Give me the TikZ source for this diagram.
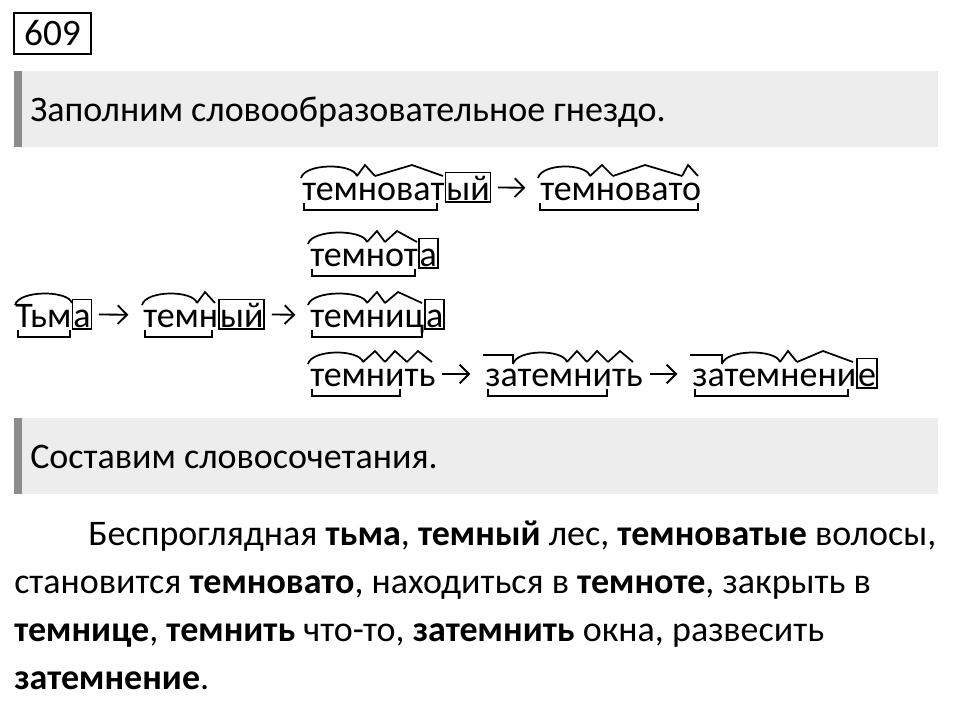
\documentclass[tikz,border=0pt]{standalone}
\usepackage{fontspec}
\setmainfont{Carlito}
\usepackage{tikz}
\usetikzlibrary{calc,arrows.meta}
\definecolor{bandgray}{RGB}{237,237,237}
\definecolor{bargray}{RGB}{140,140,140}
\newcommand\txtsize{\fontsize{27}{32}\selectfont}
% morpheme marks, offsets in px from the base west of a word
\newcommand\koren[3]{%
  \draw[morf] ($(#1.base west)+(#2,-22)$) .. controls ($(#1.base west)+(#2+4,-37)$) and ($(#1.base west)+(#3-4,-37)$) .. ($(#1.base west)+(#3,-24)$);
}
\newcommand\suff[4]{%
  \draw[morf] ($(#1.base west)+(#2,-24)$) -- ($(#1.base west)+(#3,-35)$) -- ($(#1.base west)+(#4,-24)$);
}
\newcommand\prist[3]{%
  \draw[morf] ($(#1.base west)+(#2,-31)$) -- ($(#1.base west)+(#3,-31)$) -- ($(#1.base west)+(#3,-22)$);
}
\newcommand\osnova[3]{%
  \draw[osn] ($(#1.base west)+(#2,3)$) -- ($(#1.base west)+(#2,10)$) -- ($(#1.base west)+(#3,10)$) -- ($(#1.base west)+(#3,3)$);
}
\begin{document}
\begin{tikzpicture}
[x=0.75pt, y=-0.75pt,
 word/.style={font=\txtsize, inner sep=0pt, anchor=base west, text height=18pt, text depth=0pt},
 okon/.style={draw, line width=1.2pt, font=\txtsize, inner xsep=0.6pt, inner ysep=0pt, anchor=base west, text height=20.5pt, text depth=1.5pt},
 txt/.style={font=\txtsize, inner sep=0pt, anchor=base west},
 morf/.style={line width=1.3pt},
 osn/.style={line width=1.6pt},
 strel/.style={line width=1.4pt, -{Straight Barb[length=7pt,width=14pt]}, shorten <=5pt, shorten >=11pt}]
\useasboundingbox (0,0) rectangle (960,708);
\node[draw, line width=1.5pt, minimum width=57.75pt, minimum height=30.75pt, inner sep=0pt, font=\fontsize{28}{30}\selectfont] (nomer) at (52.5,33.5) {609};
\foreach \yb/\nm/\zag in {71/zag1/{Заполним словообразовательное гнездо.}, 418/zag2/{Составим словосочетания.}}
  { \fill[bandgray] (14,\yb) rectangle (938,\yb+76);
    \fill[bargray] (14,\yb) rectangle (22,\yb+76);
    \node[txt] (\nm) at (30,\yb+50) {\zag};
  }
% the nest
\node[word] (tvat) at (302,200) {темноват};
\node[okon] (tvatE) at (tvat.base east) {ый};
\node[word] (tvato) at (540,200) {темновато};
\node[word] (tnot) at (310,266) {темнот};
\node[okon] (tnotE) at (tnot.base east) {а};
\node[word] (tm) at (15,327) {Тьм};
\node[okon] (tmE) at (tm.base east) {а};
\node[word] (tny) at (143,327) {темн};
\node[okon] (tnyE) at (tny.base east) {ый};
\node[word] (tnic) at (310,327) {темниц};
\node[okon] (tnicE) at (tnic.base east) {а};
\node[word] (tnit) at (310,386) {темнить};
\node[word] (ztnit) at (485,386) {затемнить};
\node[word] (ztnen) at (692,386) {затемнени};
\node[okon] (ztnenE) at (ztnen.base east) {е};
\foreach \a/\b in {tvatE/tvato, tmE/tny, tnyE/tnic, tnit/ztnit, ztnit/ztnen}
  \draw[strel] (\a.east) -- (\b.west);
\koren{tvat}{-1}{55} \suff{tvat}{55}{63}{73} \suff{tvat}{73}{110}{141} \osnova{tvat}{2}{135}
\koren{tvato}{-2}{50} \suff{tvato}{50}{62}{73} \suff{tvato}{73}{105}{142} \suff{tvato}{142}{148}{158} \osnova{tvato}{0}{158}
\koren{tnot}{-2}{57} \suff{tnot}{57}{67}{75} \suff{tnot}{75}{87}{107} \osnova{tnot}{2}{105}
\koren{tm}{0}{57} \osnova{tm}{3}{55}
\koren{tny}{-1}{54} \suff{tny}{54}{62}{72} \osnova{tny}{2}{69}
\koren{tnic}{-2}{57} \suff{tnic}{57}{67}{75} \suff{tnic}{75}{88}{112} \osnova{tnic}{2}{112}
\koren{tnit}{-2}{53} \suff{tnit}{53}{65}{75} \suff{tnit}{75}{85}{97} \suff{tnit}{97}{108}{122} \osnova{tnit}{2}{90}
\prist{ztnit}{-2}{28} \koren{ztnit}{28}{82} \suff{ztnit}{82}{92}{102} \suff{ztnit}{102}{112}{123} \suff{ztnit}{123}{135}{148} \osnova{ztnit}{3}{122}
\prist{ztnen}{-2}{30} \koren{ztnen}{30}{88} \suff{ztnen}{88}{96}{105} \suff{ztnen}{105}{131}{161} \osnova{ztnen}{3}{156}
% word combinations
\foreach \n/\x/\y/\stroka in {
  p1/88/545/{Беспроглядная \textbf{тьма}, \textbf{темный} лес, \textbf{темноватые} волосы,},
  p2/14/593/{становится \textbf{темновато}, находиться в \textbf{темноте}, закрыть в},
  p3/14/641/{\textbf{темнице}, \textbf{темнить} что-то, \textbf{затемнить} окна, развесить},
  p4/14/689/{\textbf{затемнение}.}}
  \node[txt] (\n) at (\x,\y) {\stroka};
\end{tikzpicture}
\end{document}
